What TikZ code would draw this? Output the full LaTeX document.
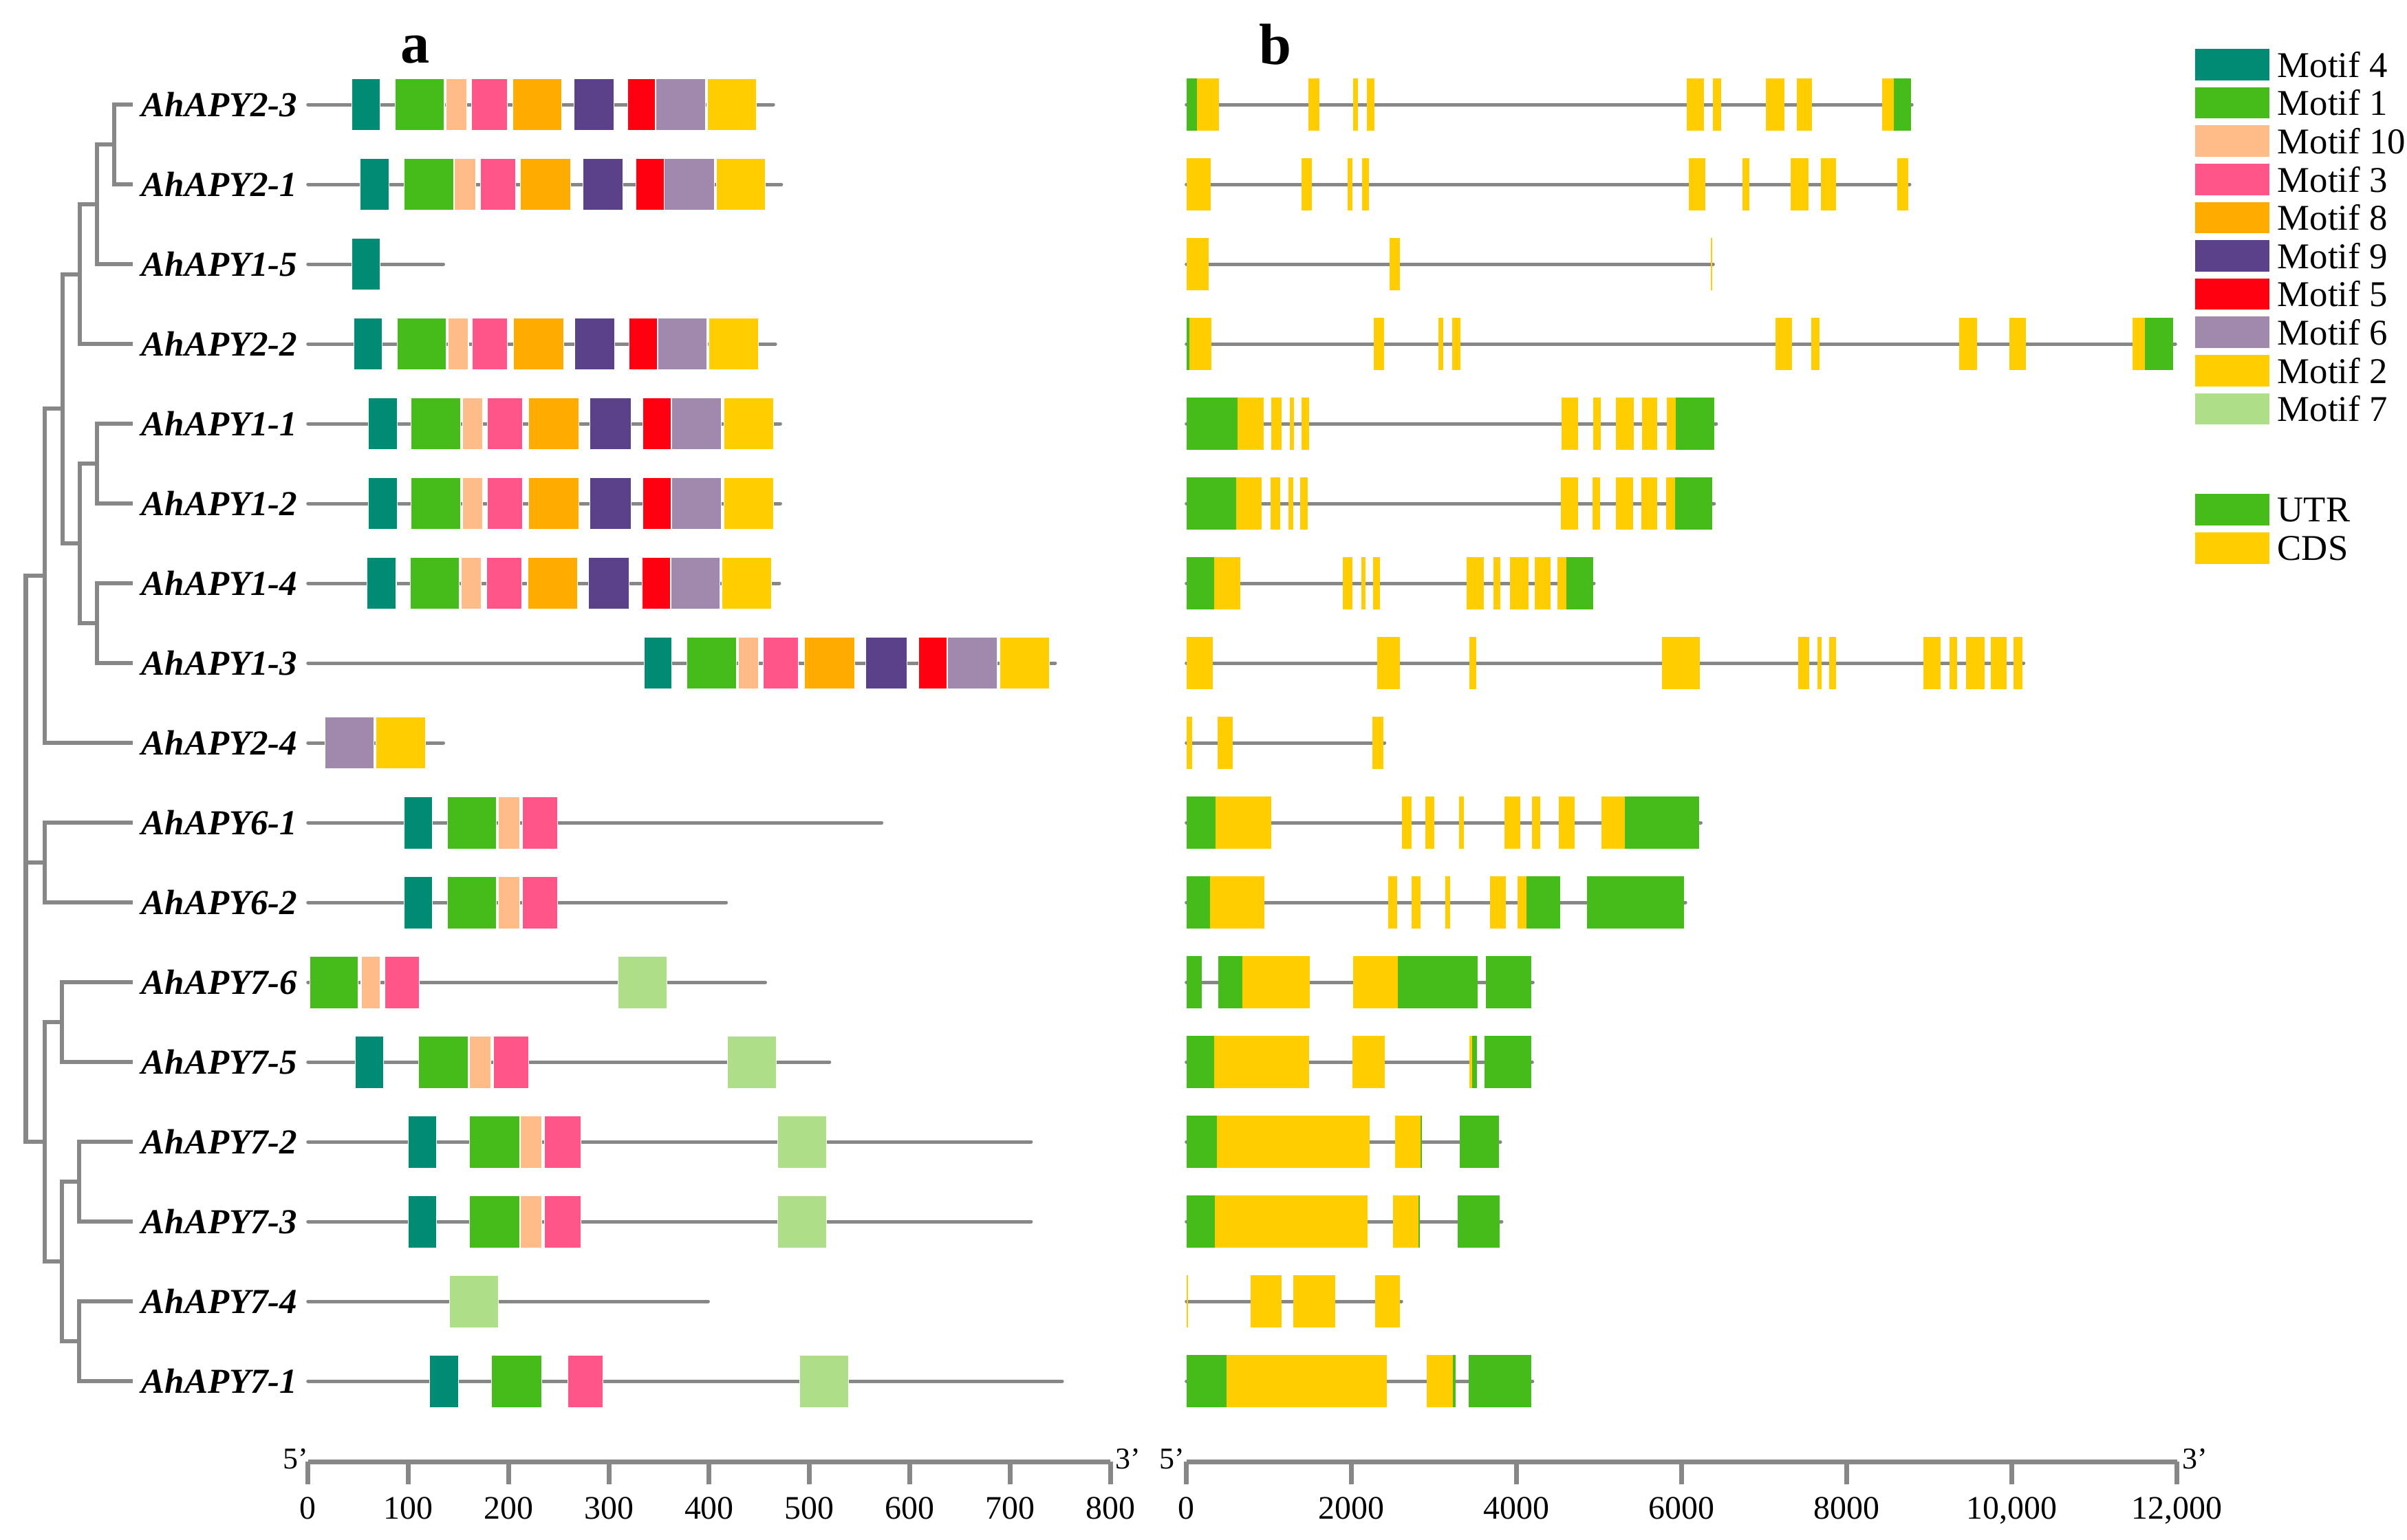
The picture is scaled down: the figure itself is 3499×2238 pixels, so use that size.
\documentclass[tikz,border=0pt]{standalone}
\usepackage{fontspec}
\setmainfont{Liberation Serif}
\usetikzlibrary{positioning}

\definecolor{tealc}{HTML}{008B74}
\definecolor{greenc}{HTML}{46BC1B}
\definecolor{peachc}{HTML}{FFBC88}
\definecolor{pinkc}{HTML}{FF5589}
\definecolor{orangec}{HTML}{FFAB00}
\definecolor{purplec}{HTML}{5B418A}
\definecolor{redc}{HTML}{FF0010}
\definecolor{lilacc}{HTML}{A189AD}
\definecolor{yellowc}{HTML}{FFCD00}
\definecolor{lgreenc}{HTML}{AEDF88}
\definecolor{linec}{HTML}{878787}

% one block (motif or exon) and one backbone line on the current row
\newcommand{\blk}[3]{\fill[#1] (#2,\rowy-38) rectangle (#3,\rowy+38);}
\newcommand{\bone}[1]{\draw[backbone] (0,\rowy) -- (#1,\rowy);}

\begin{document}
\begin{tikzpicture}[x=0.01cm, y=-0.01cm,
    branch/.style={draw=linec, line width=0.06cm},
    backbone/.style={draw=linec, line width=0.05cm, line cap=round},
    axisline/.style={draw=linec, line width=0.07cm},
    gname/.style={anchor=west, inner xsep=0.12cm, inner ysep=0pt,
        font=\fontsize{14.5}{17}\selectfont\bfseries\itshape},
    ticklab/.style={anchor=base, inner sep=0pt, font=\fontsize{13.6}{16}\selectfont},
    endlab/.style={anchor=base, inner sep=0pt, font=\fontsize{12.5}{14}\selectfont},
    panel/.style={anchor=base, inner sep=0pt, font=\fontsize{24}{28}\selectfont\bfseries},
    swatch/.style={minimum width=1.08cm, minimum height=0.456cm, inner sep=0pt, outer sep=0pt},
    swatchtext/.style={inner sep=0pt, font=\fontsize{15}{18}\selectfont},
    mfour/.style={fill=tealc, draw=white, line width=0.3pt},
    mone/.style={fill=greenc, draw=white, line width=0.3pt},
    mten/.style={fill=peachc, draw=white, line width=0.3pt},
    mthree/.style={fill=pinkc, draw=white, line width=0.3pt},
    meight/.style={fill=orangec, draw=white, line width=0.3pt},
    mnine/.style={fill=purplec, draw=white, line width=0.3pt},
    mfive/.style={fill=redc, draw=white, line width=0.3pt},
    msix/.style={fill=lilacc, draw=white, line width=0.3pt},
    mtwo/.style={fill=yellowc, draw=white, line width=0.3pt},
    mseven/.style={fill=lgreenc, draw=white, line width=0.3pt},
    utr/.style={fill=greenc},
    cds/.style={fill=yellowc}
]
\useasboundingbox (0,0) rectangle (3499,2238);

\node[panel] (pa) at (604,91) {a};
\node[panel] (pb) at (1854,93) {b};

% gene names
\node[gname] (g0) at (193,152) {AhAPY2-3};
\node[gname] (g1) at (193,268) {AhAPY2-1};
\node[gname] (g2) at (193,384) {AhAPY1-5};
\node[gname] (g3) at (193,500) {AhAPY2-2};
\node[gname] (g4) at (193,616) {AhAPY1-1};
\node[gname] (g5) at (193,732) {AhAPY1-2};
\node[gname] (g6) at (193,848) {AhAPY1-4};
\node[gname] (g7) at (193,964) {AhAPY1-3};
\node[gname] (g8) at (193,1080) {AhAPY2-4};
\node[gname] (g9) at (193,1196) {AhAPY6-1};
\node[gname] (g10) at (193,1312) {AhAPY6-2};
\node[gname] (g11) at (193,1428) {AhAPY7-6};
\node[gname] (g12) at (193,1544) {AhAPY7-5};
\node[gname] (g13) at (193,1660) {AhAPY7-2};
\node[gname] (g14) at (193,1776) {AhAPY7-3};
\node[gname] (g15) at (193,1892) {AhAPY7-4};
\node[gname] (g16) at (193,2008) {AhAPY7-1};

% tree
\coordinate (n1) at (166,210);
\coordinate (n2) at (141,297);
\coordinate (n3) at (116,399);
\coordinate (n4) at (141,674);
\coordinate (n5) at (141,906);
\coordinate (n6) at (116,790);
\coordinate (n7) at (91,594);
\coordinate (n8) at (65,837);
\coordinate (n9) at (65,1254);
\coordinate (n10) at (90,1486);
\coordinate (n11) at (115,1718);
\coordinate (n12) at (115,1950);
\coordinate (n13) at (90,1834);
\coordinate (n14) at (65,1660);
\coordinate (root) at (37.5,1254);
\draw[branch] (n1) |- (g0.west);
\draw[branch] (n1) |- (g1.west);
\draw[branch] (n2) |- (n1);
\draw[branch] (n2) |- (g2.west);
\draw[branch] (n3) |- (n2);
\draw[branch] (n3) |- (g3.west);
\draw[branch] (n4) |- (g4.west);
\draw[branch] (n4) |- (g5.west);
\draw[branch] (n5) |- (g6.west);
\draw[branch] (n5) |- (g7.west);
\draw[branch] (n6) |- (n4);
\draw[branch] (n6) |- (n5);
\draw[branch] (n7) |- (n3);
\draw[branch] (n7) |- (n6);
\draw[branch] (n8) |- (n7);
\draw[branch] (n8) |- (g8.west);
\draw[branch] (n9) |- (g9.west);
\draw[branch] (n9) |- (g10.west);
\draw[branch] (n10) |- (g11.west);
\draw[branch] (n10) |- (g12.west);
\draw[branch] (n11) |- (g13.west);
\draw[branch] (n11) |- (g14.west);
\draw[branch] (n12) |- (g15.west);
\draw[branch] (n12) |- (g16.west);
\draw[branch] (n13) |- (n11);
\draw[branch] (n13) |- (n12);
\draw[branch] (n14) |- (n10);
\draw[branch] (n14) |- (n13);
\draw[branch] (root) |- (n8);
\draw[branch] (root) |- (n9);
\draw[branch] (root) |- (n14);

% a: motifs, x in aa
\begin{scope}[shift={(447.7,0)}, xscale=1.458]
\def\rowy{152}\bone{464}\blk{mfour}{44}{72}\blk{mone}{87}{136}\blk{mten}{138}{158}\blk{mthree}{163}{199}\blk{meight}{204}{253}\blk{mnine}{265}{305}\blk{mfive}{319}{346}\blk{msix}{347}{396}\blk{mtwo}{398}{447}
\def\rowy{268}\bone{472}\blk{mfour}{52}{81}\blk{mone}{96}{145}\blk{mten}{146}{167}\blk{mthree}{172}{207}\blk{meight}{212}{262}\blk{mnine}{274}{314}\blk{mfive}{327}{355}\blk{msix}{355}{405}\blk{mtwo}{407}{456}
\def\rowy{384}\bone{135}\blk{mfour}{44}{72}
\def\rowy{500}\bone{466}\blk{mfour}{46}{74}\blk{mone}{89}{138}\blk{mten}{140}{160}\blk{mthree}{164}{199}\blk{meight}{205}{255}\blk{mnine}{266}{306}\blk{mfive}{320}{348}\blk{msix}{349}{398}\blk{mtwo}{400}{449}
\def\rowy{616}\bone{471}\blk{mfour}{60}{89}\blk{mone}{103}{152}\blk{mten}{154}{174}\blk{mthree}{179}{214}\blk{meight}{220}{270}\blk{mnine}{281}{322}\blk{mfive}{334}{362}\blk{msix}{363}{412}\blk{mtwo}{415}{464}
\def\rowy{732}\bone{471}\blk{mfour}{60}{89}\blk{mone}{103}{152}\blk{mten}{154}{174}\blk{mthree}{179}{214}\blk{meight}{220}{270}\blk{mnine}{281}{322}\blk{mfive}{334}{362}\blk{msix}{363}{412}\blk{mtwo}{415}{464}
\def\rowy{848}\bone{470}\blk{mfour}{59}{88}\blk{mone}{102}{151}\blk{mten}{153}{173}\blk{mthree}{178}{213}\blk{meight}{219}{269}\blk{mnine}{280}{320}\blk{mfive}{333}{361}\blk{msix}{362}{411}\blk{mtwo}{413}{462}
\def\rowy{964}\bone{745}\blk{mfour}{335}{363}\blk{mone}{378}{427}\blk{mten}{429}{449}\blk{mthree}{454}{489}\blk{meight}{495}{545}\blk{mnine}{556}{597}\blk{mfive}{609}{637}\blk{msix}{638}{687}\blk{mtwo}{690}{739}
\def\rowy{1080}\bone{135}\blk{msix}{17}{66}\blk{mtwo}{68}{117}
\def\rowy{1196}\bone{572}\blk{mfour}{96}{124}\blk{mone}{139}{188}\blk{mten}{190}{211}\blk{mthree}{214}{249}
\def\rowy{1312}\bone{417}\blk{mfour}{96}{124}\blk{mone}{139}{188}\blk{mten}{190}{211}\blk{mthree}{214}{249}
\def\rowy{1428}\bone{456}\blk{mone}{2}{50}\blk{mten}{53}{72}\blk{mthree}{77}{111}\blk{mseven}{309}{358}
\def\rowy{1544}\bone{520}\blk{mfour}{47}{75}\blk{mone}{110}{160}\blk{mten}{161}{182}\blk{mthree}{185}{220}\blk{mseven}{418}{467}
\def\rowy{1660}\bone{721}\blk{mfour}{100}{128}\blk{mone}{161}{211}\blk{mten}{212}{233}\blk{mthree}{236}{272}\blk{mseven}{468}{517}
\def\rowy{1776}\bone{721}\blk{mfour}{100}{128}\blk{mone}{161}{211}\blk{mten}{212}{233}\blk{mthree}{236}{272}\blk{mseven}{468}{517}
\def\rowy{1892}\bone{399}\blk{mseven}{141}{190}
\def\rowy{2008}\bone{752}\blk{mfour}{121}{150}\blk{mone}{183}{233}\blk{mthree}{259}{294}\blk{mseven}{490}{539}
% axis
\draw[axisline] (0,2125) -- (800,2125);
\foreach \t in {0,100,...,800} {
  \draw[axisline] (\t,2125) -- (\t,2158);
  \node[ticklab] at (\t,2208) {\t};
}
\end{scope}

% b: gene structure, x in bp
\begin{scope}[shift={(1724.7,0)}, xscale=0.12]
\def\rowy{152}\bone{8788}\blk{utr}{0}{129}\blk{cds}{129}{396}\blk{cds}{1478}{1612}\blk{cds}{2016}{2077}\blk{cds}{2186}{2278}\blk{cds}{6062}{6268}\blk{cds}{6381}{6474}\blk{cds}{7019}{7242}\blk{cds}{7391}{7577}\blk{cds}{8425}{8570}\blk{utr}{8570}{8777}
\def\rowy{268}\bone{8761}\blk{cds}{0}{291}\blk{cds}{1390}{1515}\blk{cds}{1955}{2008}\blk{cds}{2129}{2214}\blk{cds}{6082}{6288}\blk{cds}{6733}{6821}\blk{cds}{7323}{7536}\blk{cds}{7690}{7872}\blk{cds}{8611}{8748}
\def\rowy{384}\bone{6381}\blk{cds}{0}{267}\blk{cds}{2464}{2589}\blk{cds}{6355}{6368}
\def\rowy{500}\bone{11980}\blk{utr}{0}{33}\blk{cds}{33}{299}\blk{cds}{2267}{2392}\blk{cds}{3054}{3111}\blk{cds}{3223}{3317}\blk{cds}{7132}{7334}\blk{cds}{7569}{7666}\blk{cds}{9362}{9580}\blk{cds}{9972}{10170}\blk{cds}{11463}{11608}\blk{utr}{11608}{11955}
\def\rowy{616}\bone{6418}\blk{utr}{0}{618}\blk{cds}{618}{933}\blk{cds}{1026}{1156}\blk{cds}{1252}{1305}\blk{cds}{1394}{1483}\blk{cds}{4541}{4747}\blk{cds}{4924}{5018}\blk{cds}{5203}{5417}\blk{cds}{5518}{5704}\blk{cds}{5817}{5930}\blk{utr}{5930}{6398}
\def\rowy{732}\bone{6393}\blk{utr}{0}{606}\blk{cds}{606}{913}\blk{cds}{1018}{1139}\blk{cds}{1236}{1293}\blk{cds}{1378}{1471}\blk{cds}{4533}{4743}\blk{cds}{4920}{5013}\blk{cds}{5199}{5413}\blk{cds}{5514}{5700}\blk{cds}{5813}{5922}\blk{utr}{5922}{6373}
\def\rowy{848}\bone{4936}\blk{utr}{0}{339}\blk{cds}{339}{651}\blk{cds}{1891}{2012}\blk{cds}{2117}{2169}\blk{cds}{2258}{2348}\blk{cds}{3398}{3603}\blk{cds}{3717}{3805}\blk{cds}{3923}{4141}\blk{cds}{4218}{4408}\blk{cds}{4492}{4605}\blk{utr}{4605}{4924}
\def\rowy{964}\bone{10142}\blk{cds}{0}{319}\blk{cds}{2311}{2582}\blk{cds}{3430}{3507}\blk{cds}{5757}{6219}\blk{cds}{7411}{7544}\blk{cds}{7641}{7698}\blk{cds}{7783}{7872}\blk{cds}{8926}{9132}\blk{cds}{9241}{9338}\blk{cds}{9447}{9669}\blk{cds}{9746}{9932}\blk{cds}{10021}{10129}
\def\rowy{1080}\bone{2400}\blk{cds}{0}{69}\blk{cds}{376}{562}\blk{cds}{2250}{2388}
\def\rowy{1196}\bone{6232}\blk{utr}{0}{354}\blk{cds}{354}{1025}\blk{cds}{2613}{2729}\blk{cds}{2895}{3003}\blk{cds}{3305}{3359}\blk{cds}{3853}{4043}\blk{cds}{4184}{4288}\blk{cds}{4512}{4703}\blk{cds}{5026}{5312}\blk{utr}{5312}{6211}
\def\rowy{1312}\bone{6046}\blk{utr}{0}{283}\blk{cds}{283}{947}\blk{cds}{2443}{2555}\blk{cds}{2725}{2833}\blk{cds}{3135}{3193}\blk{cds}{3678}{3869}\blk{cds}{4010}{4122}\blk{utr}{4122}{4528}\blk{utr}{4852}{6029}
\def\rowy{1428}\bone{4197}\blk{utr}{0}{184}\blk{utr}{387}{678}\blk{cds}{678}{1494}\blk{cds}{2020}{2563}\blk{utr}{2563}{3529}\blk{utr}{3628}{4180}
\def\rowy{1544}\bone{4188}\blk{utr}{0}{338}\blk{cds}{338}{1482}\blk{cds}{2012}{2402}\blk{cds}{3426}{3458}\blk{utr}{3458}{3517}\blk{utr}{3612}{4176}
\def\rowy{1660}\bone{3803}\blk{utr}{0}{370}\blk{cds}{370}{2223}\blk{cds}{2530}{2837}\blk{utr}{2837}{2853}\blk{utr}{3313}{3782}
\def\rowy{1776}\bone{3819}\blk{utr}{0}{342}\blk{cds}{342}{2194}\blk{cds}{2501}{2808}\blk{utr}{2808}{2828}\blk{utr}{3288}{3798}
\def\rowy{1892}\bone{2605}\blk{cds}{0}{18}\blk{cds}{781}{1154}\blk{cds}{1295}{1801}\blk{cds}{2286}{2584}
\def\rowy{2008}\bone{4193}\blk{utr}{0}{487}\blk{cds}{487}{2431}\blk{cds}{2912}{3231}\blk{utr}{3231}{3260}\blk{utr}{3418}{4176}
% axis
\draw[axisline] (0,2125) -- (12000,2125);
\foreach \t/\lab in {0/0, 2000/2000, 4000/4000, 6000/6000, 8000/8000, 10000/{10,000}, 12000/{12,000}} {
  \draw[axisline] (\t,2125) -- (\t,2158);
  \node[ticklab] at (\t,2208) {\lab};
}
\end{scope}

% 5'/3' ends
\node[endlab] (a5) at (430,2135) {5’};
\node[endlab] (a3) at (1640,2135) {3’};
\node[endlab] (b5) at (1704,2135) {5’};
\node[endlab] (b3) at (3191,2135) {3’};

% legend
\node[swatch, fill=tealc, anchor=north west] (kfour) at (3191,71) {};
\node[swatch, fill=greenc, below=0.1cm of kfour] (kone) {};
\node[swatch, fill=peachc, below=0.1cm of kone] (kten) {};
\node[swatch, fill=pinkc, below=0.1cm of kten] (kthree) {};
\node[swatch, fill=orangec, below=0.1cm of kthree] (keight) {};
\node[swatch, fill=purplec, below=0.1cm of keight] (knine) {};
\node[swatch, fill=redc, below=0.1cm of knine] (kfive) {};
\node[swatch, fill=lilacc, below=0.1cm of kfive] (ksix) {};
\node[swatch, fill=yellowc, below=0.1cm of ksix] (ktwo) {};
\node[swatch, fill=lgreenc, below=0.1cm of ktwo] (kseven) {};
\node[swatch, fill=greenc, below=1.01cm of kseven] (kutr) {};
\node[swatch, fill=yellowc, below=0.1cm of kutr] (kcds) {};
\node[swatchtext, right=0.11cm of kfour] {Motif 4};
\node[swatchtext, right=0.11cm of kone] {Motif 1};
\node[swatchtext, right=0.11cm of kten] {Motif 10};
\node[swatchtext, right=0.11cm of kthree] {Motif 3};
\node[swatchtext, right=0.11cm of keight] {Motif 8};
\node[swatchtext, right=0.11cm of knine] {Motif 9};
\node[swatchtext, right=0.11cm of kfive] {Motif 5};
\node[swatchtext, right=0.11cm of ksix] {Motif 6};
\node[swatchtext, right=0.11cm of ktwo] {Motif 2};
\node[swatchtext, right=0.11cm of kseven] {Motif 7};
\node[swatchtext, right=0.11cm of kutr] {UTR};
\node[swatchtext, right=0.11cm of kcds] {CDS};
\end{tikzpicture}
\end{document}
